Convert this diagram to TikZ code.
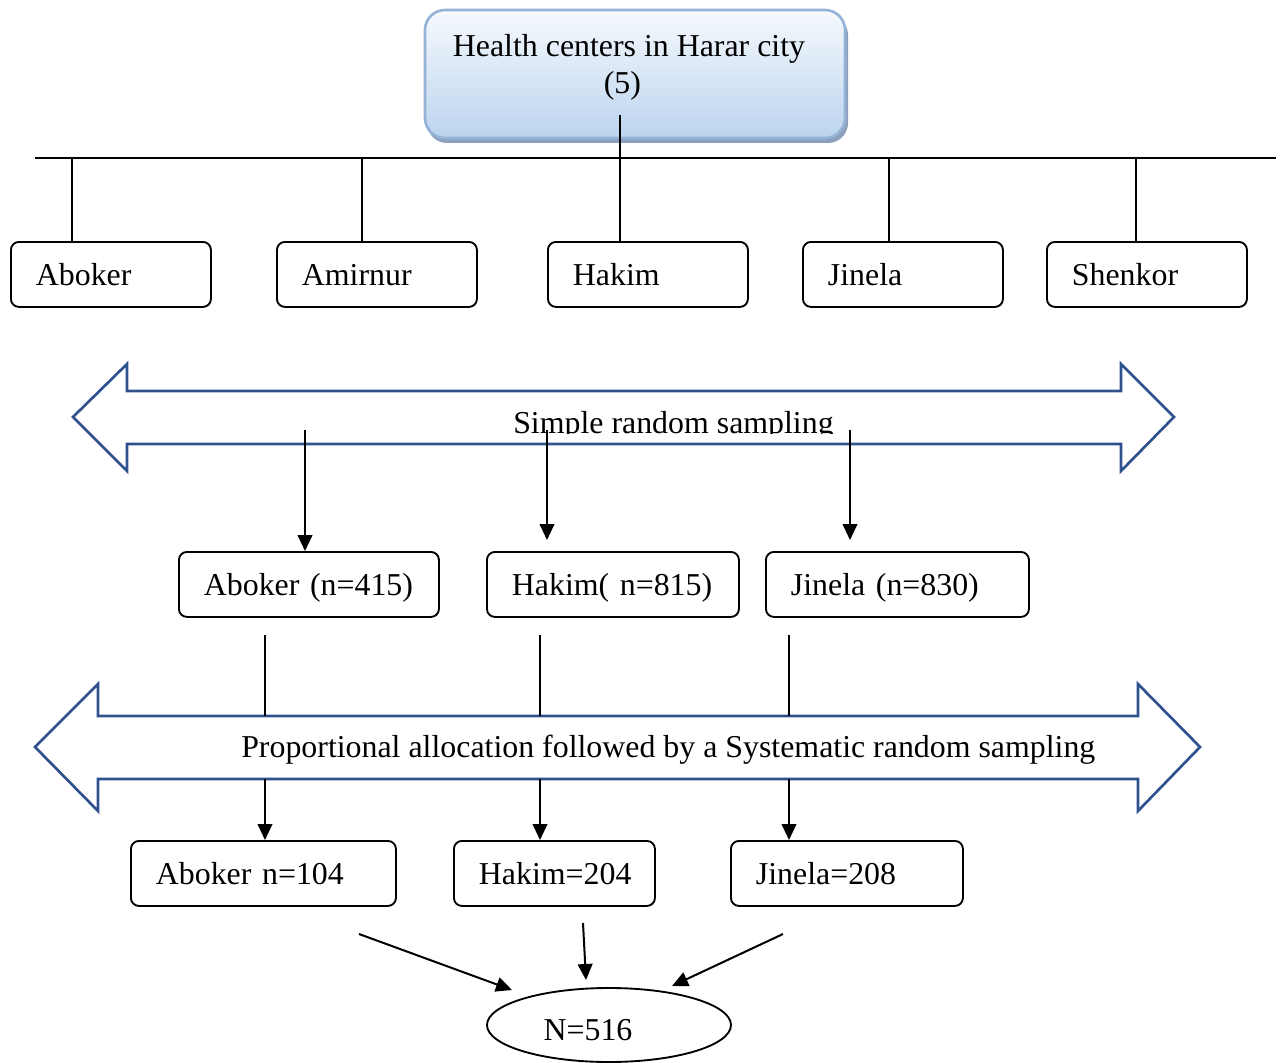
\documentclass[tikz,border=0pt]{standalone}
\usepackage{fontspec}
\setmainfont{Liberation Serif}
\usetikzlibrary{arrows.meta,shapes.geometric,calc}
\definecolor{arrowblue}{RGB}{47,82,143}
\definecolor{boxborder}{RGB}{149,179,215}
\definecolor{boxtop}{RGB}{246,249,253}
\definecolor{boxbottom}{RGB}{187,212,238}
\definecolor{shadowblue}{RGB}{140,160,190}
\begin{document}
\begin{tikzpicture}[x=0.75pt,y=-0.75pt,
  every node/.style={font=\fontsize{23.9}{27.75}\selectfont},
  sbox/.style={draw, line width=1.4pt, rounded corners=6pt, anchor=north west,
    minimum height=48.75pt, inner xsep=18.75pt, inner ysep=0pt,
    text width=#1, align=left, text height=17.25pt, text depth=0pt},
  conn/.style={line width=1.5pt},
  arr/.style={line width=1.5pt, -{Triangle[length=12pt,width=11pt]}},
  bigarrow/.style={draw=arrowblue, line width=2pt, line join=miter}]
\useasboundingbox (0,0) rectangle (1283,1063);

% top box
\fill[shadowblue, rounded corners=15pt] (427,15) rectangle (848,143);
\node[draw=boxborder, line width=2pt, rounded corners=15pt, top color=boxtop,
  bottom color=boxbottom, minimum width=315pt, minimum height=96pt, inner sep=0pt] (hc) at (635,74) {};
\node[anchor=base, inner sep=0pt] (hct) at (629,57)
  {\begin{tabular}[t]{@{}c@{}}Health centers in Harar city\\(5)\hspace*{10pt}\end{tabular}};

% row 1
\node[sbox=112.5pt] (ab1) at (10,241) {Aboker};
\node[sbox=112.5pt] (am1) at (276,241) {Amirnur};
\node[sbox=112.5pt] (hk1) at (547,241) {Hakim};
\node[sbox=112.5pt] (ji1) at (802,241) {Jinela};
\node[sbox=112.5pt] (sh1) at (1046,241) {Shenkor};

% bus
\coordinate (busL) at (35,158);
\coordinate (busR) at (1276,158);
\draw[line width=2pt] (busL) -- (busR);
\coordinate (t1) at (72,158);
\coordinate (t2) at (362,158);
\coordinate (t4) at (889,158);
\coordinate (t5) at (1136,158);
\coordinate (hcfoot) at (620,115);
\draw[conn] (t1) -- (t1 |- ab1.north);
\draw[conn] (t2) -- (t2 |- am1.north);
\draw[conn] (hcfoot) -- (hcfoot |- hk1.north);
\draw[conn] (t4) -- (t4 |- ji1.north);
\draw[conn] (t5) -- (t5 |- sh1.north);

% big arrow 1
\draw[bigarrow] (73,417) -- (127,364) -- (127,391) -- (1121,391) -- (1121,364) -- (1174,417)
  -- (1121,471) -- (1121,444) -- (127,444) -- (127,471) -- cycle;
\begin{scope}
\clip (0,0) rectangle (1283,433);
\node[anchor=base west, inner sep=0pt] (srs) at (513,433) {Simple random sampling};
\end{scope}

% row 2
\node[sbox=157.5pt] (ab2) at (178,551) {Aboker (n=415)};
\node[sbox=151.5pt] (hk2) at (486,551) {Hakim( n=815)};
\node[sbox=159.75pt] (ji2) at (765,551) {Jinela (n=830)};

\coordinate (s1) at (305,430);
\coordinate (s2) at (547,430);
\coordinate (s3) at (850,430);
\draw[arr] (s1) -- (s1 |- ab2.north);
\draw[arr] (s2) -- ($(s2 |- hk2.north)+(0,-11)$);
\draw[arr] (s3) -- ($(s3 |- ji2.north)+(0,-11)$);

% big arrow 2
\draw[bigarrow] (35,747) -- (98,684) -- (98,716) -- (1138,716) -- (1138,684) -- (1200,747)
  -- (1138,811) -- (1138,779) -- (98,779) -- (98,811) -- cycle;
\node[anchor=base west, inner sep=0pt] (pa) at (241,757)
  {Proportional allocation followed by a Systematic random sampling};

\coordinate (p1) at (265,635); \coordinate (q1) at (265,716); \coordinate (r1) at (265,779);
\coordinate (p2) at (540,635); \coordinate (q2) at (540,716); \coordinate (r2) at (540,779);
\coordinate (p3) at (789,635); \coordinate (q3) at (789,716); \coordinate (r3) at (789,779);
\draw[conn] (p1) -- (q1);
\draw[conn] (p2) -- (q2);
\draw[conn] (p3) -- (q3);

% row 3
\node[sbox=161.25pt] (ab3) at (130,840) {Aboker n=104};
\node[sbox=113.25pt] (hk3) at (453,840) {Hakim=204};
\node[sbox=136.5pt] (ji3) at (730,840) {Jinela=208};
\draw[arr] (r1) -- (r1 |- ab3.north);
\draw[arr] (r2) -- (r2 |- hk3.north);
\draw[arr] (r3) -- (r3 |- ji3.north);

% total
\node[draw, ellipse, line width=1.4pt, minimum width=183pt, minimum height=55.5pt,
  inner sep=0pt, text height=22.5pt, text depth=0pt] (N) at (609,1025) {N=516\hspace*{31.5pt}};
\coordinate (b1) at (359,934); \coordinate (e1) at (512,990);
\coordinate (b2) at (583,923); \coordinate (e2) at (586,980);
\coordinate (b3) at (783,934); \coordinate (e3) at (672,986);
\draw[arr] (b1) -- (e1);
\draw[arr] (b2) -- (e2);
\draw[arr] (b3) -- (e3);
\end{tikzpicture}
\end{document}
